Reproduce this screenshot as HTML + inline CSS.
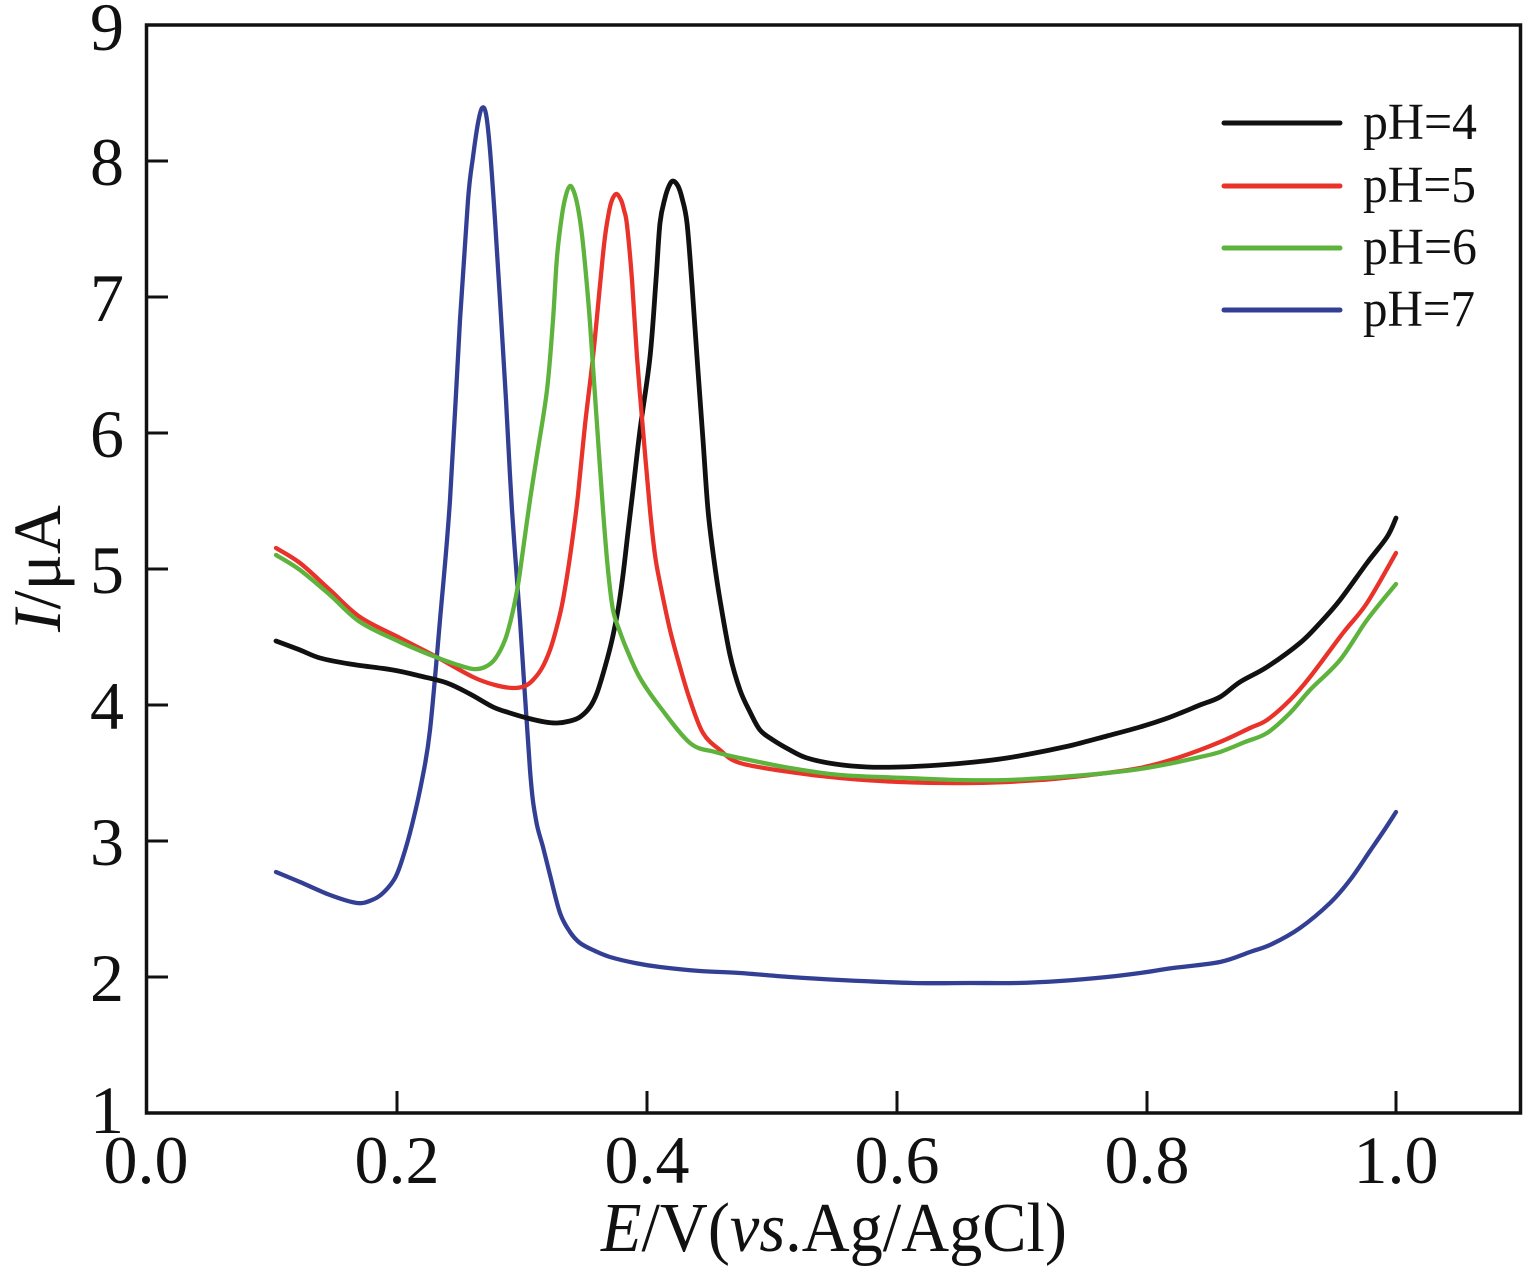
<!DOCTYPE html>
<html><head><meta charset="utf-8"><style>
html,body{margin:0;padding:0;background:#fff;}
svg{display:block;}
text{font-family:"Liberation Serif","DejaVu Serif",serif;fill:#111;}
</style></head><body>
<svg id="chart" width="1536" height="1269" viewBox="0 0 1536 1269" xmlns="http://www.w3.org/2000/svg">
<rect x="0" y="0" width="1536" height="1269" fill="#fff"/>
<!-- frame -->
<rect x="146.5" y="25" width="1374" height="1088" fill="none" stroke="#111" stroke-width="3.5"/>
<!-- ticks -->
<g stroke="#111" stroke-width="3">
<line x1="146" y1="161" x2="168" y2="161"/>
<line x1="146" y1="297" x2="168" y2="297"/>
<line x1="146" y1="433" x2="168" y2="433"/>
<line x1="146" y1="569" x2="168" y2="569"/>
<line x1="146" y1="705" x2="168" y2="705"/>
<line x1="146" y1="841" x2="168" y2="841"/>
<line x1="146" y1="977" x2="168" y2="977"/>
<line x1="397" y1="1091" x2="397" y2="1113"/>
<line x1="647" y1="1091" x2="647" y2="1113"/>
<line x1="897" y1="1091" x2="897" y2="1113"/>
<line x1="1147" y1="1091" x2="1147" y2="1113"/>
<line x1="1396" y1="1091" x2="1396" y2="1113"/>
</g>
<!-- y tick labels -->
<g font-size="68" text-anchor="end">
<text x="124" y="50">9</text>
<text x="124" y="185">8</text>
<text x="124" y="321">7</text>
<text x="124" y="457">6</text>
<text x="124" y="593">5</text>
<text x="124" y="729">4</text>
<text x="124" y="865">3</text>
<text x="124" y="1001">2</text>
<text x="124" y="1133">1</text>
</g>
<!-- x tick labels -->
<g font-size="68" text-anchor="middle">
<text x="146" y="1183">0.0</text>
<text x="397" y="1183">0.2</text>
<text x="647" y="1183">0.4</text>
<text x="897" y="1183">0.6</text>
<text x="1147" y="1183">0.8</text>
<text x="1396" y="1183">1.0</text>
</g>
<!-- axis titles -->
<text x="601" y="1251" font-size="70" textLength="466" lengthAdjust="spacingAndGlyphs"><tspan font-style="italic">E</tspan>/V(<tspan font-style="italic">vs</tspan>.Ag/AgCl)</text>
<text transform="translate(60,632) rotate(-90)" font-size="68" textLength="127" lengthAdjust="spacingAndGlyphs"><tspan font-style="italic">I</tspan>/μA</text>
<!-- legend -->
<g stroke-linecap="round" stroke-width="5" fill="none">
<line x1="1224" y1="123" x2="1340" y2="123" stroke="#111"/>
<line x1="1224" y1="186" x2="1340" y2="186" stroke="#e8322a"/>
<line x1="1224" y1="248" x2="1340" y2="248" stroke="#5db33c"/>
<line x1="1224" y1="310" x2="1340" y2="310" stroke="#333f94"/>
</g>
<g font-size="52">
<text x="1363" y="139" textLength="114" lengthAdjust="spacingAndGlyphs">pH=4</text>
<text x="1363" y="202" textLength="113" lengthAdjust="spacingAndGlyphs">pH=5</text>
<text x="1363" y="264" textLength="114" lengthAdjust="spacingAndGlyphs">pH=6</text>
<text x="1363" y="326" textLength="112" lengthAdjust="spacingAndGlyphs">pH=7</text>
</g>
<!-- curves -->
<g fill="none" stroke-linejoin="round" stroke-linecap="round">
<polyline class="s" stroke="#333f94" stroke-width="4.3" points="276,872 300,882 330,895 357,903 372,900 383,893 395,878 403,857 412,825 422,780 430,730 440,620 450,500 460,320 468,200 473,157 478,123 482,108 486,114 490,150 495,220 500,300 506,400 512,510 520,620 530,770 536,820 543,847 550,875 560,913 570,932 580,943 595,951 610,957 635,963 660,967 700,971 740,973 790,977 840,980 913,983 970,983 1017,983 1060,981 1107,977 1140,973 1173,968 1220,962 1250,952 1272,944 1300,928 1330,903 1350,880 1370,851 1385,829 1396,812"/>
<polyline class="s" stroke="#111" stroke-width="4.8" points="276,641 300,650 320,658 350,664 393,670 420,676 447,683 470,694 493,707 510,713 527,718 545,722 557,723 570,721 580,717 590,707 597,693 605,667 612,640 618,610 623,575 628,532 633,490 640,430 650,357 656,280 660,223 665,198 669,186 673,181 678,186 682,198 687,223 692,285 697,357 703,440 708,510 714,560 720,600 730,655 740,690 750,712 760,730 773,740 790,750 807,758 835,764 867,767 900,767 940,765 975,762 1007,758 1040,752 1073,745 1107,736 1140,727 1165,719 1183,712 1200,705 1220,697 1240,682 1267,667 1300,643 1320,623 1340,600 1367,563 1387,537 1396,518"/>
<polyline class="s" stroke="#e8322a" stroke-width="4.3" points="276,548 300,563 330,590 360,617 400,638 433,655 473,677 495,685 513,688 525,686 533,680 542,668 550,650 556,630 562,605 568,570 573,535 578,495 585,425 593,357 600,285 604,245 607,223 611,203 616,194 621,200 624,210 627,225 632,280 637,357 643,430 650,510 655,555 660,583 670,630 680,667 690,700 703,733 720,750 740,763 790,772 840,778 900,782 973,783 1040,780 1090,775 1140,768 1180,757 1220,742 1250,728 1267,720 1290,700 1310,677 1343,633 1367,603 1396,553"/>
<polyline class="s" stroke="#5db33c" stroke-width="4.3" points="276,555 300,570 330,595 360,622 400,642 433,656 455,664 473,669 485,667 495,659 505,640 512,615 518,585 523,550 530,500 537,455 547,390 553,320 557,257 562,215 566,195 570,186 574,192 578,208 582,235 586,275 590,323 596,410 603,510 608,570 613,610 620,632 627,650 640,678 660,707 690,743 715,752 740,758 790,768 840,775 907,778 960,780 1007,780 1060,777 1107,773 1140,769 1173,763 1200,757 1220,752 1245,742 1267,733 1290,713 1310,690 1340,660 1367,620 1396,584"/>
</g>
</svg>
<script>
(function(){
  try{
    var ns="http://www.w3.org/2000/svg";
    var pls=document.querySelectorAll("polyline.s");
    for(var k=0;k<pls.length;k++){
      var pl=pls[k];
      var raw=pl.getAttribute("points").trim().split(/\s+/);
      var p=[];
      for(var i=0;i<raw.length;i++){var a=raw[i].split(",");p.push([+a[0],+a[1]]);}
      var d="M"+p[0][0]+","+p[0][1];
      for(var i=0;i<p.length-1;i++){
        var p0=p[i>0?i-1:i],p1=p[i],p2=p[i+1],p3=p[i+2<p.length?i+2:i+1];
        var c1x=p1[0]+(p2[0]-p0[0])/6,c1y=p1[1]+(p2[1]-p0[1])/6;
        var c2x=p2[0]-(p3[0]-p1[0])/6,c2y=p2[1]-(p3[1]-p1[1])/6;
        d+=" C"+c1x.toFixed(2)+","+c1y.toFixed(2)+" "+c2x.toFixed(2)+","+c2y.toFixed(2)+" "+p2[0]+","+p2[1];
      }
      var path=document.createElementNS(ns,"path");
      path.setAttribute("d",d);
      path.setAttribute("stroke",pl.getAttribute("stroke"));
      path.setAttribute("stroke-width",pl.getAttribute("stroke-width"));
      path.setAttribute("fill","none");
      pl.parentNode.replaceChild(path,pl);
    }
  }catch(e){}
})();
</script>
</body></html>
